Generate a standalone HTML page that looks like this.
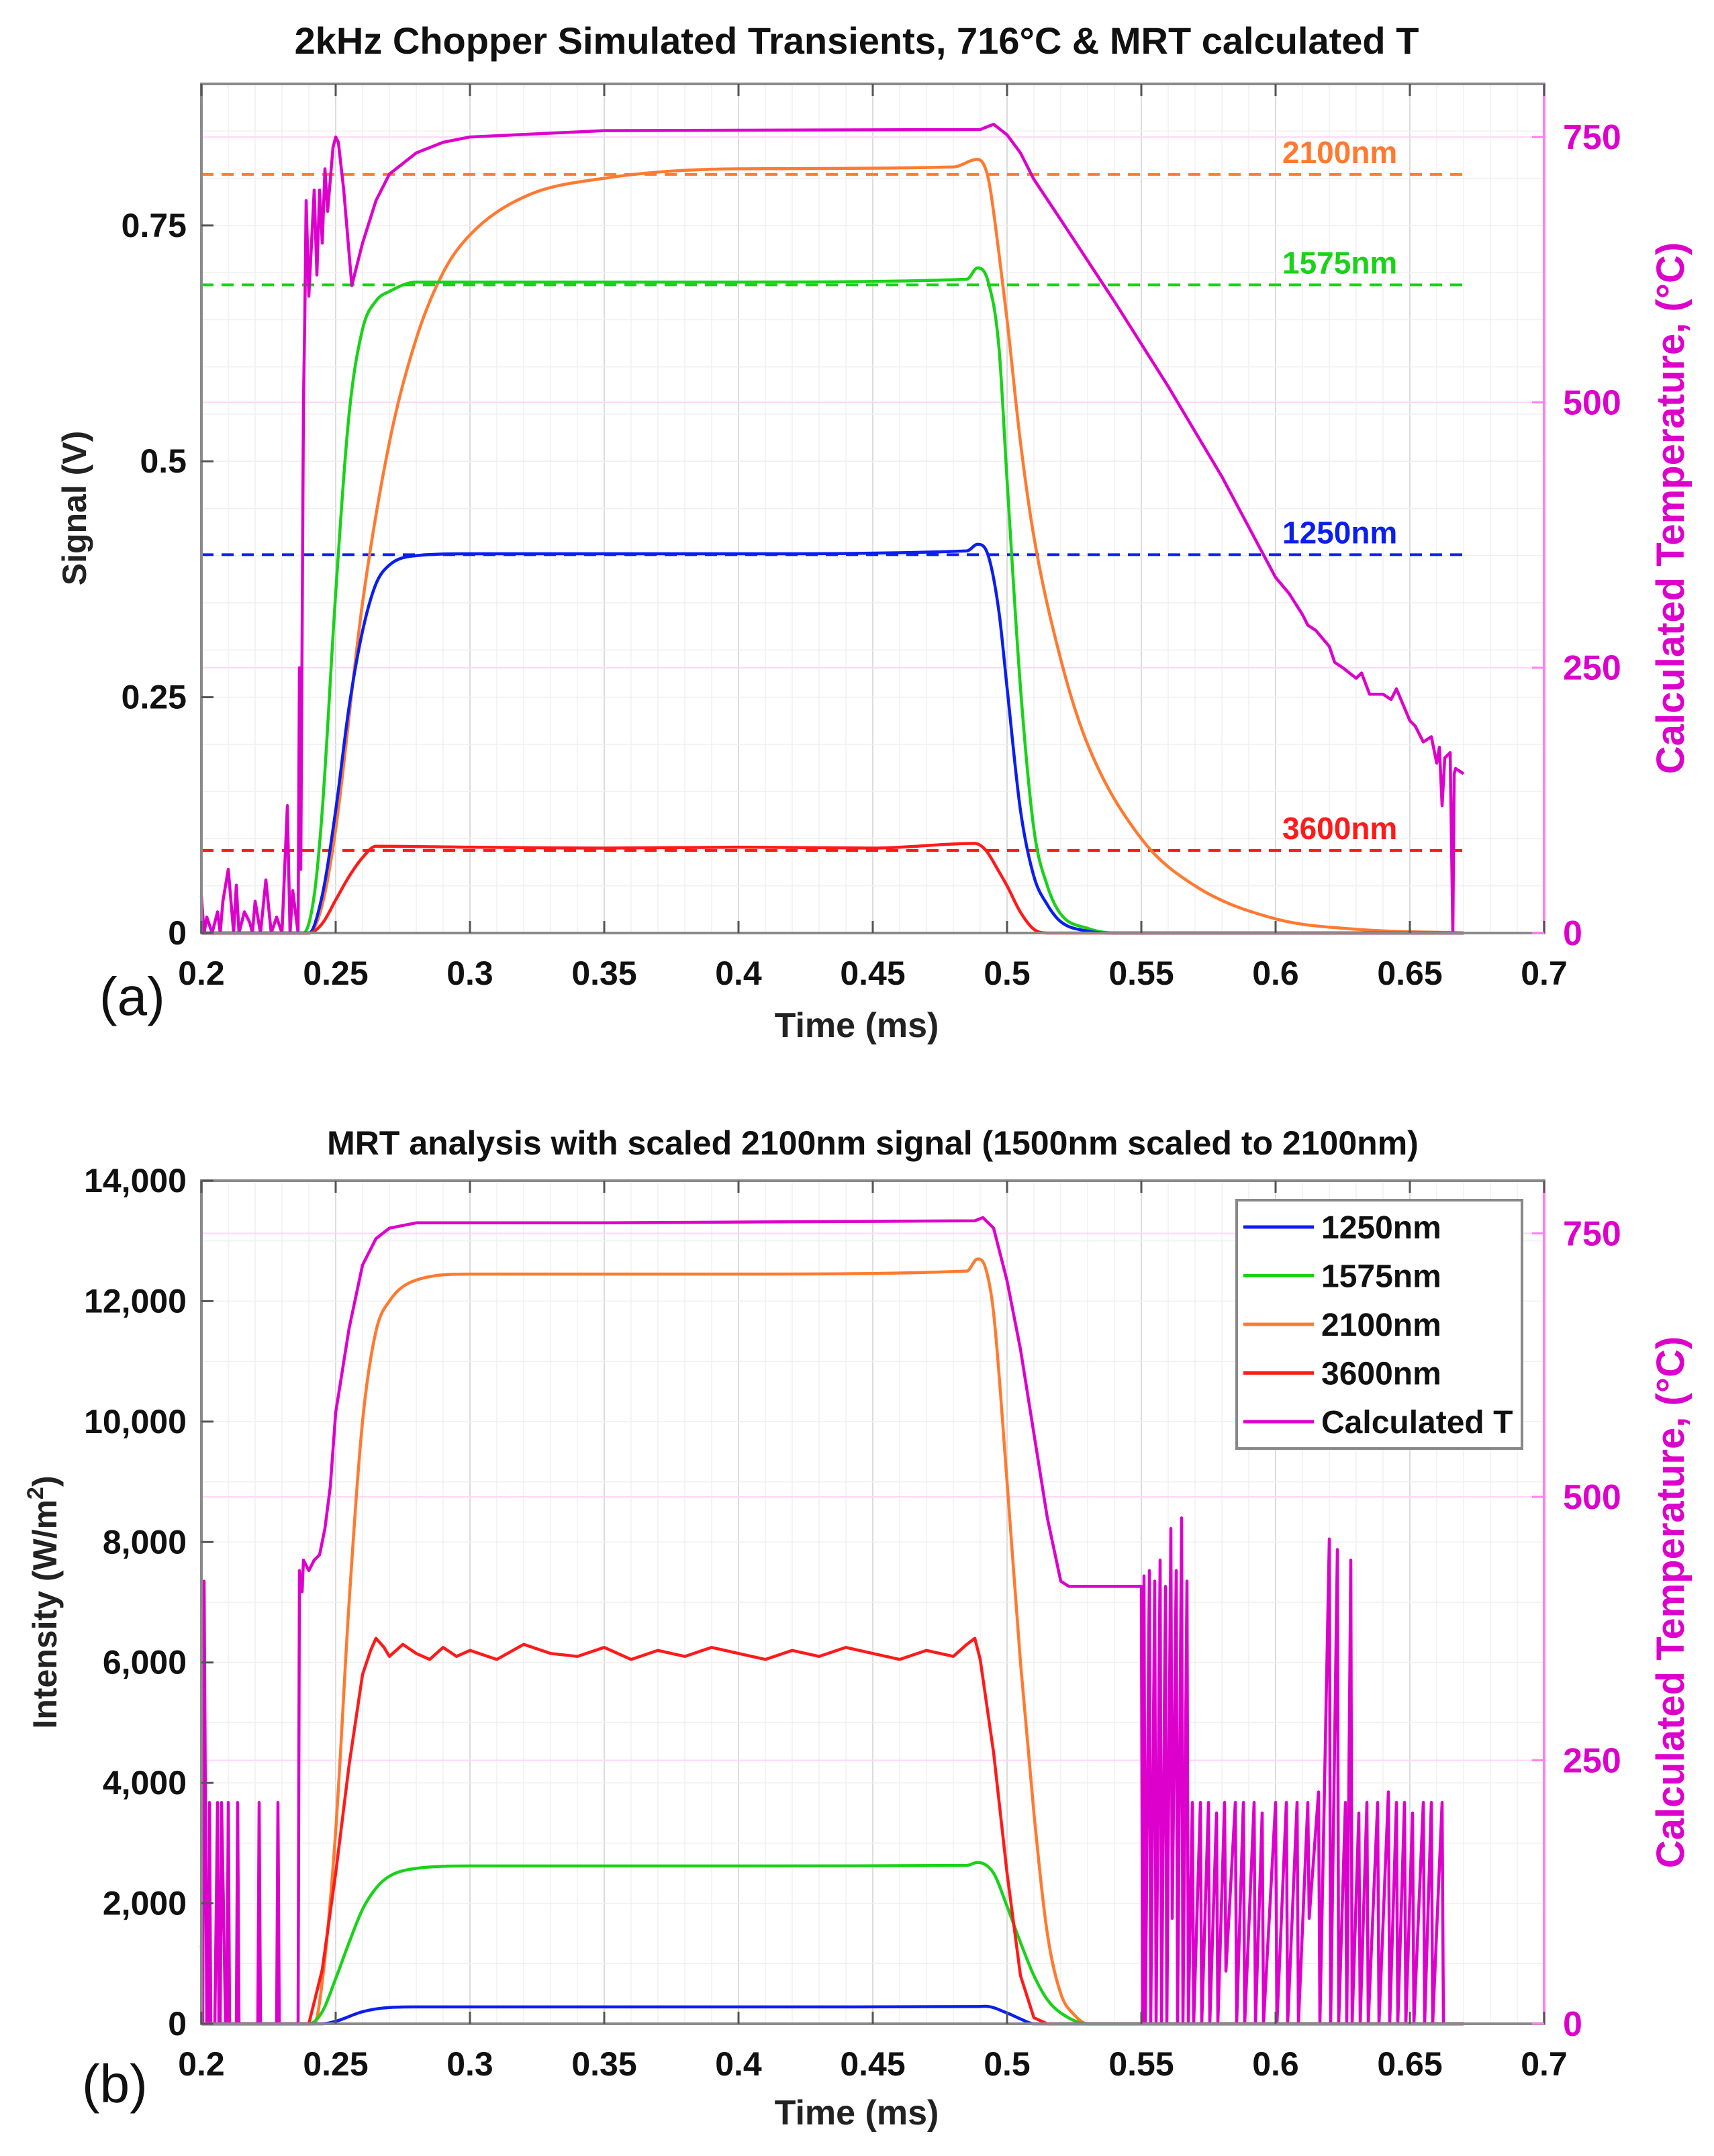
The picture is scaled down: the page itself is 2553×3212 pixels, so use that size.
<!DOCTYPE html>
<html><head><meta charset="utf-8">
<style>
html,body{margin:0;padding:0;background:#fff;}
svg{display:block;font-family:"Liberation Sans",sans-serif;}
</style></head>
<body>
<svg id="fig" width="2553" height="3212" viewBox="0 0 2553 3212" xmlns="http://www.w3.org/2000/svg"></svg>
<script>
// ---------- Panel (a) data ----------
const aBlueT=[0.2,0.24,0.245,0.25,0.255,0.26,0.265,0.27,0.28,0.3,0.4,0.485,0.489,0.493,0.497,0.5,0.505,0.51,0.515,0.52,0.53,0.54,0.67];
const aBlueV=[0,0,0.04,0.13,0.24,0.32,0.37,0.39,0.40,0.402,0.402,0.405,0.412,0.40,0.34,0.26,0.13,0.06,0.03,0.012,0.002,0,0];
const aGreenT=[0.2,0.238,0.242,0.245,0.25,0.255,0.26,0.265,0.27,0.28,0.3,0.4,0.485,0.489,0.493,0.497,0.5,0.505,0.51,0.515,0.52,0.53,0.54,0.67];
const aGreenV=[0,0,0.04,0.13,0.36,0.55,0.64,0.67,0.68,0.69,0.69,0.69,0.693,0.705,0.69,0.62,0.48,0.26,0.11,0.05,0.02,0.005,0,0];
const aOrangeT=[0.2,0.24,0.245,0.25,0.26,0.27,0.28,0.29,0.3,0.32,0.35,0.4,0.48,0.489,0.493,0.497,0.5,0.505,0.51,0.52,0.53,0.55,0.57,0.6,0.63,0.67];
const aOrangeV=[0,0,0.03,0.11,0.35,0.52,0.63,0.70,0.74,0.78,0.80,0.81,0.812,0.82,0.80,0.72,0.65,0.52,0.42,0.29,0.2,0.1,0.05,0.015,0.004,0];
const aRedT=[0.2,0.24,0.245,0.25,0.255,0.26,0.265,0.3,0.35,0.4,0.45,0.488,0.492,0.497,0.5,0.505,0.51,0.515,0.67];
const aRedV=[0,0,0.01,0.035,0.06,0.08,0.092,0.091,0.09,0.091,0.09,0.095,0.088,0.065,0.05,0.022,0.004,0,0];
const aMagT=[0.2,0.201,0.202,0.204,0.206,0.207,0.208,0.21,0.212,0.213,0.214,0.216,0.218,0.219,0.22,0.222,0.224,0.226,0.228,0.23,0.232,0.233,0.234,0.236,0.2365,0.237,0.238,0.2385,0.239,0.24,0.241,0.242,0.243,0.244,0.245,0.246,0.247,0.248,0.249,0.25,0.251,0.253,0.256,0.26,0.265,0.27,0.28,0.29,0.3,0.35,0.49,0.495,0.5,0.505,0.51,0.52,0.54,0.56,0.58,0.6,0.605,0.61,0.612,0.615,0.62,0.622,0.625,0.63,0.632,0.635,0.64,0.643,0.645,0.65,0.652,0.655,0.658,0.66,0.661,0.662,0.663,0.665,0.666,0.6665,0.667,0.67];
const aMagV=[35,0,15,0,20,0,30,60,0,45,0,20,10,0,30,0,50,0,15,0,120,0,40,0,250,60,500,580,690,600,650,700,620,700,650,720,680,710,740,750,745,700,610,650,690,715,735,745,750,756,757,762,752,735,710,672,595,515,430,335,320,300,290,285,270,255,250,240,245,225,225,220,230,200,195,180,185,160,175,120,165,170,0,150,155,150];
const aDashVal=[0.804,0.687,0.401,0.0875];
const aDashLab=["2100nm","1575nm","1250nm","3600nm"];
const aXTicks=["0.2","0.25","0.3","0.35","0.4","0.45","0.5","0.55","0.6","0.65","0.7"];
const aYTicks=[0,0.25,0.5,0.75];
const aYTickLab=["0","0.25","0.5","0.75"];
const rTicks=[0,250,500,750];

// ---------- Panel (b) data ----------
const bBlueT=[0.2,0.245,0.25,0.26,0.27,0.28,0.4,0.488,0.492,0.5,0.505,0.51,0.67];
const bBlueV=[0,0,40,200,270,280,280,285,290,180,80,0,0];
const bGreenT=[0.2,0.24,0.245,0.25,0.255,0.26,0.265,0.27,0.28,0.3,0.4,0.485,0.489,0.495,0.5,0.505,0.51,0.515,0.52,0.53,0.67];
const bGreenV=[0,0,200,750,1350,1900,2250,2450,2580,2620,2620,2630,2680,2500,1950,1350,800,400,180,0,0];
const bOrangeT=[0.2,0.242,0.245,0.25,0.255,0.26,0.265,0.27,0.28,0.3,0.4,0.485,0.489,0.492,0.495,0.5,0.505,0.51,0.515,0.52,0.525,0.53,0.67];
const bOrangeV=[0,0,700,3200,7000,10000,11500,12000,12350,12450,12450,12500,12700,12550,11800,9000,6000,3500,1500,500,150,0,0];
const bRedT=[0.2,0.24,0.245,0.25,0.255,0.26,0.263,0.265,0.268,0.27,0.275,0.28,0.285,0.29,0.295,0.3,0.31,0.32,0.33,0.34,0.35,0.36,0.37,0.38,0.39,0.4,0.41,0.42,0.43,0.44,0.45,0.46,0.47,0.48,0.485,0.488,0.49,0.495,0.5,0.505,0.51,0.515,0.67];
const bRedV=[0,0,900,2500,4300,5800,6200,6400,6250,6100,6300,6150,6050,6250,6100,6200,6050,6300,6150,6100,6250,6050,6200,6100,6250,6150,6050,6200,6100,6250,6150,6050,6200,6100,6300,6400,6050,4500,2500,800,100,0,0];
const bMagT=[0.2,0.2005,0.201,0.202,0.2025,0.203,0.2035,0.205,0.206,0.2065,0.207,0.2075,0.209,0.2095,0.21,0.2105,0.213,0.2135,0.214,0.2145,0.221,0.2215,0.222,0.2225,0.228,0.2285,0.229,0.2295,0.236,0.2365,0.237,0.2375,0.238,0.24,0.242,0.244,0.246,0.248,0.25,0.255,0.26,0.265,0.27,0.28,0.35,0.488,0.491,0.495,0.5,0.505,0.51,0.515,0.52,0.523,0.55,0.5505,0.551,0.5515,0.553,0.5535,0.555,0.5555,0.557,0.5575,0.559,0.5595,0.561,0.5615,0.563,0.5635,0.565,0.5655,0.567,0.5675,0.569,0.5695,0.572,0.5725,0.575,0.5755,0.578,0.5785,0.581,0.5815,0.585,0.5855,0.588,0.5885,0.592,0.5925,0.595,0.5955,0.6,0.6005,0.604,0.6045,0.608,0.6085,0.612,0.6125,0.616,0.6165,0.62,0.6205,0.623,0.6235,0.626,0.6265,0.628,0.6285,0.631,0.6315,0.634,0.6345,0.638,0.6385,0.642,0.6425,0.645,0.6455,0.648,0.6485,0.651,0.6515,0.655,0.6555,0.658,0.6585,0.662,0.6625,0.666,0.6665,0.669,0.6695,0.67];
const bMagV=[75,0,420,0,0,210,0,0,210,0,0,210,0,0,210,0,0,210,0,0,0,210,0,0,0,210,0,0,0,430,420,410,440,430,440,445,470,510,580,660,720,745,755,760,760,762,765,755,705,640,560,480,420,415,415,0,425,0,430,0,420,0,440,0,415,0,470,100,430,0,480,0,420,0,210,0,210,0,210,0,200,0,210,50,210,0,210,0,210,0,200,0,210,0,210,0,210,0,210,100,220,0,460,0,450,0,210,0,440,0,200,0,210,0,210,0,220,0,210,0,210,0,200,0,210,0,210,0,210,0];
const bYTicks=[0,2000,4000,6000,8000,10000,12000,14000];
const bYTickLab=["0","2,000","4,000","6,000","8,000","10,000","12,000","14,000"];
const legendLab=["1250nm","1575nm","2100nm","3600nm","Calculated T"];

// ---------- drawing ----------
const NS="http://www.w3.org/2000/svg";
const svg=document.getElementById('fig');
function mk(tag,attrs,parent){const e=document.createElementNS(NS,tag);for(const k in attrs)e.setAttribute(k,attrs[k]);(parent||svg).appendChild(e);return e;}
const L=300,R=2300;
const C={blue:"#0a1ef0",green:"#19d219",orange:"#ff7a30",red:"#ff1a1a",mag:"#dd00cc"};

function panel(top,bot,ymax,rmax){
  const sx=t=>L+(t-0.2)/0.5*(R-L);
  const sy=v=>bot-v/ymax*(bot-top);
  const sr=v=>bot-v/rmax*(bot-top);
  return {sx,sy,sr,top,bot};
}
function grid(P,yMinorStep,ymax,rMajor){
  const g=mk('g',{});
  
  
  for(let i=1;i<50;i++){const x=P.sx(0.2+i*0.01);mk('line',{x1:x,x2:x,y1:P.top,y2:P.bot,stroke:i%5==0?"#dcdcdc":"#f0f0f0","stroke-width":i%5==0?2:1.5},g);}
  for(let v=yMinorStep;v<ymax-1e-9;v+=yMinorStep){const y=P.sy(v);mk('line',{x1:L,x2:R,y1:y,y2:y,stroke:"#efefef","stroke-width":1.5},g);}
  rMajor.forEach(v=>{if(v>0){const y=P.sr(v);mk('line',{x1:L,x2:R,y1:y,y2:y,stroke:"#ffd6f8","stroke-width":2},g);}});
}
// monotone cubic path (Fritsch-Carlson); very short gaps drawn as vertical jumps
function pathD(xs,ys){
  const n=xs.length;const m=new Array(n).fill(0);const d=[];
  for(let i=0;i<n-1;i++){const dx=xs[i+1]-xs[i];d.push(dx>0?(ys[i+1]-ys[i])/dx:0);}
  for(let i=1;i<n-1;i++){m[i]=(d[i-1]*d[i]<=0)?0:(d[i-1]+d[i])/2;}
  m[0]=d[0];m[n-1]=d[n-2];
  for(let i=0;i<n-1;i++){if(d[i]===0){m[i]=0;m[i+1]=0;continue;}
    const a=m[i]/d[i],b=m[i+1]/d[i],s=a*a+b*b;if(s>9){const t=3/Math.sqrt(s);m[i]=t*a*d[i];m[i+1]=t*b*d[i];}}
  let s="M"+xs[0].toFixed(1)+","+ys[0].toFixed(1);
  for(let i=0;i<n-1;i++){const dx=xs[i+1]-xs[i];
    if(dx<3){s+="H"+xs[i+1].toFixed(1)+"V"+ys[i+1].toFixed(1);continue;}
    const c1x=xs[i]+dx/3,c1y=ys[i]+m[i]*dx/3,c2x=xs[i+1]-dx/3,c2y=ys[i+1]-m[i+1]*dx/3;
    s+="C"+c1x.toFixed(1)+","+c1y.toFixed(1)+" "+c2x.toFixed(1)+","+c2y.toFixed(1)+" "+xs[i+1].toFixed(1)+","+ys[i+1].toFixed(1);}
  return s;
}
function line(P,T,V,scale,color,name,w,straight){
  const n=Math.min(T.length,V.length);
  const xs=T.slice(0,n).map(P.sx),ys=V.slice(0,n).map(scale);
  let d;
  if(straight){d="";for(let i=0;i<n;i++){d+=(i?"L":"M")+xs[i].toFixed(1)+","+ys[i].toFixed(1);}}
  else d=pathD(xs,ys);
  const p=mk('path',{d:d,fill:"none",stroke:color,"stroke-width":w||4.5,"stroke-linejoin":"round"});
  
  
  return p;
}
function axes(P,yT,yLab,rT){
  const g=mk('g',{});
  
  
  mk('rect',{x:L,y:P.top,width:R-L,height:P.bot-P.top,fill:"none",stroke:"#8a8a8a","stroke-width":4},g);
  mk('line',{x1:R,x2:R,y1:P.top,y2:P.bot,stroke:"#ff80ee","stroke-width":4},g);
  aXTicks.forEach((s,i)=>{const x=P.sx(0.2+i*0.05);
    mk('line',{x1:x,x2:x,y1:P.bot,y2:P.bot-18,stroke:"#555","stroke-width":3},g);
    mk('line',{x1:x,x2:x,y1:P.top,y2:P.top+18,stroke:"#555","stroke-width":3},g);
    const t=mk('text',{x:x,y:P.bot+77,"font-size":50,"font-weight":"bold","text-anchor":"middle",fill:"#111"},g);t.textContent=s;
    });
  yT.forEach((v,i)=>{const y=P.sy(v);
    mk('line',{x1:L,x2:L+18,y1:y,y2:y,stroke:"#555","stroke-width":3},g);
    const t=mk('text',{x:L-22,y:y+17,"font-size":50,"font-weight":"bold","text-anchor":"end",fill:"#111"},g);t.textContent=yLab[i];
    });
  rT.forEach(v=>{const y=P.sr(v);
    mk('line',{x1:R,x2:R-18,y1:y,y2:y,stroke:"#ff80ee","stroke-width":3},g);
    const t=mk('text',{x:R+28,y:y+18,"font-size":52,"font-weight":"bold",fill:C.mag},g);t.textContent=String(v);
    });
}
function txt(x,y,s,attrs,name){const t=mk('text',Object.assign({x:x,y:y},attrs));t.textContent=s;return t;}

// Panel (a)
const A=panel(125,1390,0.9,800);
grid(A,0.05,0.9,rTicks);
const dcol=[C.orange,C.green,C.blue,C.red];
aDashVal.forEach((v,i)=>{
  const y=A.sy(v);
  const l=mk('line',{x1:A.sx(0.2),x2:A.sx(0.67),y1:y,y2:y,stroke:dcol[i],"stroke-width":4,"stroke-dasharray":"18,12"});
  
  txt(A.sx(0.6)+10,y-17,aDashLab[i],{"font-size":46,"font-weight":"bold",fill:dcol[i]},'label-'+aDashLab[i]);
});
line(A,aOrangeT,aOrangeV,A.sy,C.orange,'series-2100nm');
line(A,aGreenT,aGreenV,A.sy,C.green,'series-1575nm');
line(A,aBlueT,aBlueV,A.sy,C.blue,'series-1250nm');
line(A,aRedT,aRedV,A.sy,C.red,'series-3600nm');
line(A,aMagT,aMagV,A.sr,C.mag,'series-calculated-t',4.5,true);
axes(A,aYTicks,aYTickLab,rTicks);
txt(1276,80,"2kHz Chopper Simulated Transients, 716°C & MRT calculated T",{"font-size":56,"font-weight":"bold","text-anchor":"middle",fill:"#111"},'title-a');
txt(1276,1545,"Time (ms)",{"font-size":52,"font-weight":"bold","text-anchor":"middle",fill:"#222"},'x-axis-title-a');
txt(148,1512,"(a)",{"font-size":80,fill:"#111"},'panel-label-a');
txt(0,0,"Signal (V)",{"font-size":50,"font-weight":"bold","text-anchor":"middle",fill:"#222",transform:"translate(128,757) rotate(-90)"},'y-axis-title-a');
txt(0,0,"Calculated Temperature, (°C)",{"font-size":58,"font-weight":"bold","text-anchor":"middle",fill:C.mag,transform:"translate(2508,757) rotate(-90)"},'right-axis-title-a');

// Panel (b)
const B=panel(1759,3015,14000,800);
grid(B,1000,14000,rTicks);
line(B,bOrangeT,bOrangeV,B.sy,C.orange,'series-2100nm-b');
line(B,bGreenT,bGreenV,B.sy,C.green,'series-1575nm-b');
line(B,bBlueT,bBlueV,B.sy,C.blue,'series-1250nm-b');
line(B,bRedT,bRedV,B.sy,C.red,'series-3600nm-b',4.5,true);
line(B,bMagT,bMagV,B.sr,C.mag,'series-calculated-t-b',4.5,true);
axes(B,bYTicks,bYTickLab,rTicks);
txt(1300,1720,"MRT analysis with scaled 2100nm signal (1500nm scaled to 2100nm)",{"font-size":50,"font-weight":"bold","text-anchor":"middle",fill:"#111"},'title-b');
txt(1276,3165,"Time (ms)",{"font-size":52,"font-weight":"bold","text-anchor":"middle",fill:"#222"},'x-axis-title-b');
txt(122,3132,"(b)",{"font-size":80,fill:"#111"},'panel-label-b');
const yt=txt(0,0,"Intensity (W/m",{"font-size":50,"font-weight":"bold","text-anchor":"middle",fill:"#222",transform:"translate(84,2387) rotate(-90)"},'y-axis-title-b');
const sup=mk('tspan',{dy:-20,"font-size":34},yt);sup.textContent="2";
const cl=mk('tspan',{dy:20},yt);cl.textContent=")";
txt(0,0,"Calculated Temperature, (°C)",{"font-size":58,"font-weight":"bold","text-anchor":"middle",fill:C.mag,transform:"translate(2508,2387) rotate(-90)"},'right-axis-title-b');

// legend
const lg=mk('g',{});


mk('rect',{x:1842,y:1788,width:425,height:370,fill:"#fff",stroke:"#888","stroke-width":4},lg);
const lc=[C.blue,C.green,C.orange,C.red,C.mag];
legendLab.forEach((s,i)=>{
  const y=1828+i*72.5;
  const e=mk('g',{},lg);
  
  
  mk('line',{x1:1852,x2:1957,y1:y,y2:y,stroke:lc[i],"stroke-width":5},e);
  const t=mk('text',{x:1968,y:y+17,"font-size":48,"font-weight":"bold",fill:"#111"},e);t.textContent=s;
});
</script>
</body></html>
